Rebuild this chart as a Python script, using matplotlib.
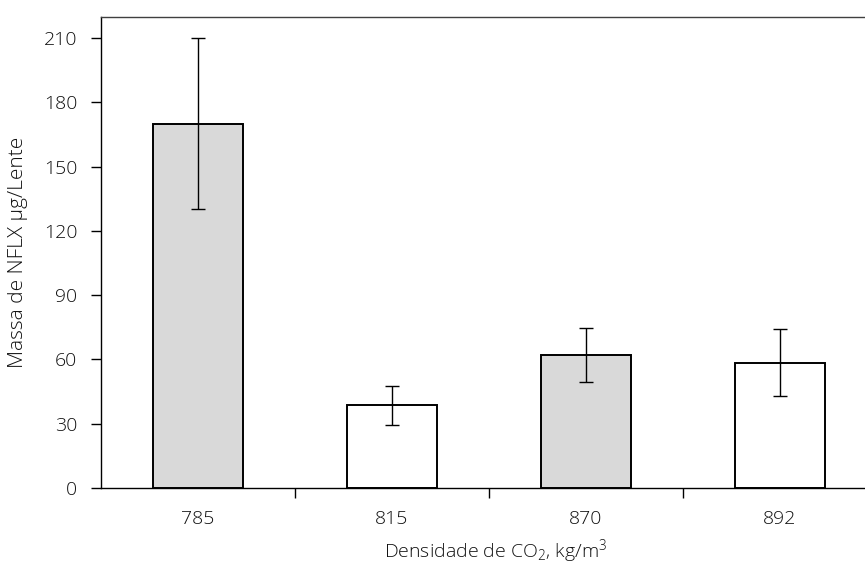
import matplotlib
matplotlib.use('Agg')
import matplotlib.pyplot as plt

densidade = ['785', '815', '870', '892']
massa = [170.0, 38.5, 62.0, 58.5]
erro = [40.0, 9.0, 12.5, 15.8]
cores = ['#d9d9d9', '#ffffff', '#d9d9d9', '#ffffff']

plt.rcParams['font.family'] = ['Open Sans', 'DejaVu Sans']
plt.rcParams['font.weight'] = 'light'
plt.rcParams['mathtext.fontset'] = 'custom'
plt.rcParams['mathtext.rm'] = 'Open Sans:light'
plt.rcParams['mathtext.it'] = 'Open Sans:light'

fig = plt.figure(figsize=(8.65, 5.67), dpi=100)
ax = fig.add_axes([101 / 865, 1 - 488 / 567, 776 / 865, 471.5 / 567])

x = range(len(densidade))
ax.bar(x, massa, width=0.467, color=cores, edgecolor='black', linewidth=1.4,
       yerr=erro, capsize=5, error_kw={'elinewidth': 1, 'capthick': 1, 'ecolor': 'black'})

ax.set_xlim(-0.5, 3.5)
ax.set_ylim(0, 220)
ax.set_yticks(range(0, 211, 30))
ax.set_xticks([0.5, 1.5, 2.5])
ax.set_xticklabels([])
ax.set_xticks(list(x), minor=True)
ax.set_xticklabels(densidade, minor=True)
ax.tick_params(axis='x', which='major', direction='out', length=7, width=1)
ax.tick_params(axis='x', which='minor', length=0, pad=16, labelsize=14, colors='#111111')
ax.tick_params(axis='y', direction='out', length=7, width=1, pad=10, labelsize=14, colors='#111111')
ax.tick_params(axis='both', which='both', color='black')

ax.spines['right'].set_visible(False)
ax.spines['top'].set_color('#404040')
for s in ['left', 'bottom', 'top']:
    ax.spines[s].set_linewidth(1)

ax.set_ylabel('Massa de NFLX µg/Lente', fontsize=15, fontweight='light', color='#111111')
ax.yaxis.set_label_coords(-(101 - 18) / 776, 0.5)
ax.yaxis.label.set_va('center')
ax.set_xlabel('Densidade de CO$_2$, kg/m$^3$', fontsize=14, fontweight='light', color='#111111')
ax.xaxis.set_label_coords((496 - 101) / 776, -(551 - 488) / 471.5)
ax.xaxis.label.set_va('center')

fig.savefig('out.png', dpi=100)
